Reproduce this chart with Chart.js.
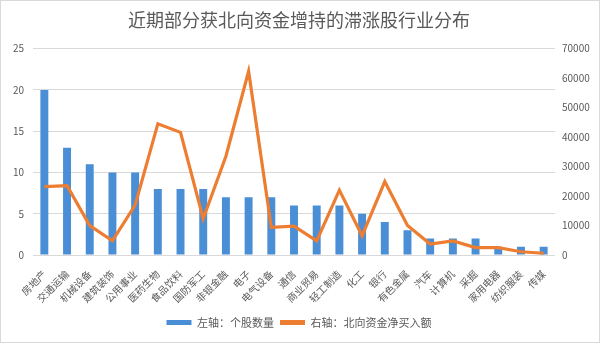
<!DOCTYPE html>
<html>
<head>
<meta charset="utf-8">
<script src="https://cdn.jsdelivr.net/npm/chart.js@4"></script>
<style>
  html, body { margin: 0; padding: 0; background: #fff; }
  #wrap { width: 598px; height: 341px; border: 1px solid #d9d9d9; }
</style>
</head>
<body>
<div id="wrap"><canvas id="industryChart" width="598" height="341"></canvas></div>
<script>
// 行业名称
const industries = ['房地产', '交通运输', '机械设备', '建筑装饰', '公用事业', '医药生物', '食品饮料', '国防军工',
    '非银金融', '电子', '电气设备', '通信', '商业贸易', '轻工制造', '化工', '银行', '有色金属', '汽车',
    '计算机', '采掘', '家用电器', '纺织服装', '传媒'];

// 左轴：个股数量
const stockCounts = [20, 13, 11, 10, 10, 8, 8, 8, 7, 7, 7, 6, 6, 6, 5, 4, 3, 2, 2, 2, 1, 1, 1];

// 右轴：北向资金净买入额
const netBuy = [23200, 23500, 10000, 4800, 16900, 44500, 41600, 12300, 33500, 62300, 9400, 9800,
    4800, 22000, 6500, 24900, 10000, 3700, 4800, 2500, 2500, 1100, 600];

const leftTicks = [0, 5, 10, 15, 20, 25];
const rightTicks = [0, 10000, 20000, 30000, 40000, 50000, 60000, 70000];

const fontFamily = '"Noto Sans CJK SC", "Noto Sans", sans-serif';
const textColor = '#595959';
const gridColor = '#d9d9d9';
const barColor = '#4a8fd6';
const lineColor = '#ed7d31';

// 柱子用横向渐变，中间深两边浅
function barFill(context) {
    const el = context.element;
    const area = context.chart.chartArea;
    if (!el || !area || el.width === undefined) return barColor;
    const g = context.chart.ctx.createLinearGradient(el.x - el.width / 2, 0, el.x + el.width / 2, 0);
    g.addColorStop(0, '#6fa6e0');
    g.addColorStop(0.5, '#3f86d2');
    g.addColorStop(1, '#6fa6e0');
    return g;
}

const ctx = document.getElementById('industryChart').getContext('2d');
new Chart(ctx, {
    data: {
        labels: industries,
        datasets: [{
            type: 'line',
            label: '右轴：北向资金净买入额',
            data: netBuy,
            yAxisID: 'yRight',
            borderColor: lineColor,
            backgroundColor: lineColor,
            borderWidth: 3.2,
            pointRadius: 0,
            tension: 0,
            order: 0
        }, {
            type: 'bar',
            label: '左轴：个股数量',
            data: stockCounts,
            yAxisID: 'yLeft',
            backgroundColor: barFill,
            barPercentage: 0.7,
            categoryPercentage: 0.5,
            order: 1
        }]
    },
    options: {
        responsive: false,
        animation: false,
        layout: { padding: { left: 2, right: 4, top: 2, bottom: 4 } },
        plugins: {
            title: {
                display: true,
                text: '近期部分获北向资金增持的滞涨股行业分布',
                color: textColor,
                font: { family: fontFamily, size: 18, weight: 'normal' },
                padding: { top: 6, bottom: 18 }
            },
            legend: {
                position: 'bottom',
                reverse: true,
                labels: {
                    color: textColor,
                    font: { family: fontFamily, size: 11 },
                    boxWidth: 25,
                    boxHeight: 5,
                    padding: 6,
                    generateLabels(chart) {
                        return chart.data.datasets.map((ds, i) => ({
                            text: ds.label,
                            fillStyle: ds.type === 'bar' ? barColor : lineColor,
                            strokeStyle: 'transparent',
                            lineWidth: 0,
                            fontColor: textColor,
                            datasetIndex: i,
                            hidden: false
                        }));
                    }
                }
            },
            tooltip: { enabled: false }
        },
        scales: {
            x: {
                grid: { display: false },
                border: { display: false },
                ticks: {
                    color: textColor,
                    font: { family: fontFamily, size: 10 },
                    maxRotation: 45,
                    minRotation: 45,
                    autoSkip: false,
                    padding: 5
                },
                afterFit(scale) { scale.height = 56; }
            },
            yLeft: {
                position: 'left',
                min: 0,
                max: 25,
                afterBuildTicks(scale) { scale.ticks = leftTicks.map(v => ({ value: v })); },
                grid: { color: gridColor, drawTicks: false },
                border: { display: false },
                ticks: {
                    color: textColor,
                    font: { family: fontFamily, size: 10 },
                    padding: 9
                },
                afterFit(scale) { scale.width = 30; }
            },
            yRight: {
                position: 'right',
                min: 0,
                max: 70000,
                afterBuildTicks(scale) { scale.ticks = rightTicks.map(v => ({ value: v })); },
                grid: { display: false, drawTicks: false },
                border: { display: false },
                ticks: {
                    color: textColor,
                    font: { family: fontFamily, size: 10 },
                    padding: 7,
                    callback: v => String(v)
                },
                afterFit(scale) { scale.width = 40; }
            }
        }
    }
});
</script>
</body>
</html>
